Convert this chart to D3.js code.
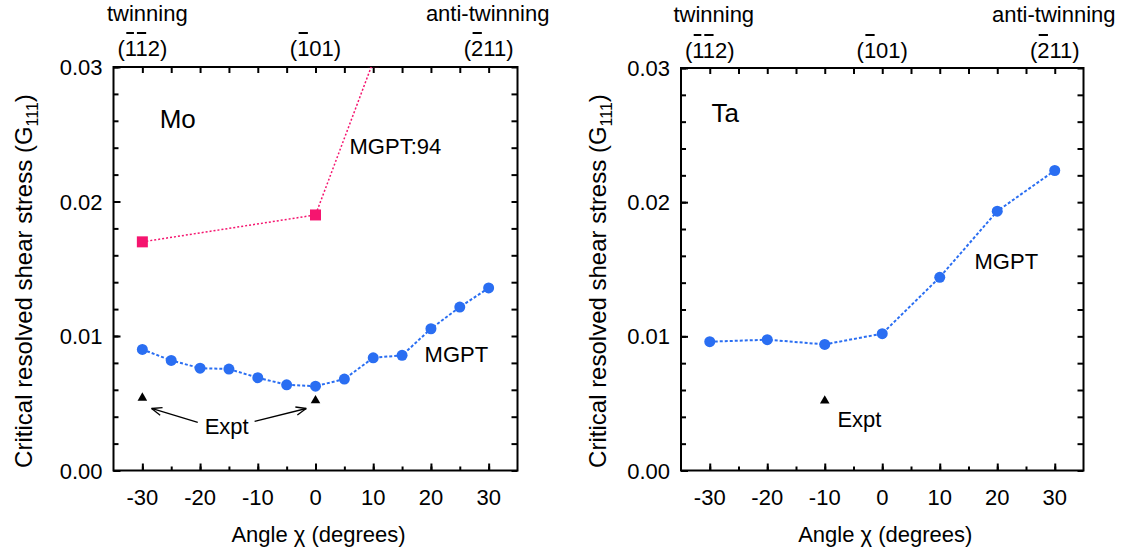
<!DOCTYPE html>
<html>
<head>
<meta charset="utf-8">
<script src="https://cdn.jsdelivr.net/npm/d3@7"></script>
<style>
  body { margin: 0; background: #fff; }
  svg { display: block; }
  text { font-family: "Liberation Sans", Arial, sans-serif; fill: #000; }
</style>
</head>
<body>
<svg id="chart" width="1124" height="548"></svg>
<script>
// ---------------- data ----------------
const xTickValues = [-30, -20, -10, 0, 10, 20, 30];
const yTickValues = [0.00, 0.01, 0.02, 0.03];
const topLabels = ["twinning", "anti-twinning"];
const millerLabels = ["(112)", "(101)", "(211)"];
const millerAngles = [-30, 0, 30];
const millerBars = [[1, 2], [1], [1]];

// Mo
const moAngles = [-30, -25, -20, -15, -10, -5, 0, 5, 10, 15, 20, 25, 30];
const moMGPT = [0.0090, 0.00818, 0.00761, 0.00754, 0.00690, 0.00637, 0.00627, 0.00680, 0.00838, 0.00856, 0.01054, 0.01215, 0.01357];
const mo94Angles = [-30, 0, 10];
const mo94 = [0.0170, 0.0190, 0.0304];
const moExptAngles = [-30, 0];
const moExpt = [0.0054, 0.0052];

// Ta
const taAngles = [-30, -20, -10, 0, 10, 20, 30];
const taMGPT = [0.0096, 0.00975, 0.0094, 0.0102, 0.0144, 0.01933, 0.02236];
const taExptAngles = [-10];
const taExpt = [0.0052];

// ---------------- drawing ----------------
const svg = d3.select("#chart");
const FS = 22;
const blue = "#2a6ef2";
const pink = "#f5156f";

function panel(cfg) {
  const x = d3.scaleLinear().domain([-35, 35]).range([cfg.left, cfg.right]);
  const y = d3.scaleLinear().domain([0, 0.03]).range([cfg.bottom, cfg.top]);
  const g = svg.append("g");
  const clipId = "clip" + cfg.id;
  svg.append("clipPath").attr("id", clipId).append("rect")
    .attr("x", cfg.left).attr("y", cfg.top)
    .attr("width", cfg.right - cfg.left).attr("height", cfg.bottom - cfg.top);

  const minorX = d3.range(-30, 31, 5);
  const minorY = d3.range(0, 0.0301, 0.002);
  const fmtX = d => String(d);
  const axB = d3.axisBottom(x).tickValues(minorX).tickSizeInner(-4).tickSizeOuter(0).tickFormat("");
  const axBm = d3.axisBottom(x).tickValues(xTickValues).tickSizeInner(-7).tickSizeOuter(0).tickFormat("");
  const axT = d3.axisTop(x).tickValues(minorX).tickSizeInner(-6).tickSizeOuter(0).tickFormat("");
  const axL = d3.axisLeft(y).tickValues(minorY).tickSizeInner(-5).tickSizeOuter(0).tickFormat("");
  const axLm = d3.axisLeft(y).tickValues(yTickValues).tickSizeInner(-7).tickSizeOuter(0).tickFormat("");
  const axR = d3.axisRight(y).tickValues(minorY).tickSizeInner(-6).tickSizeOuter(0).tickFormat("");

  const style = s => {
    s.select(".domain").remove();
    s.selectAll(".tick line").attr("stroke", "#000").attr("stroke-width", 2);
  };
  g.append("g").attr("transform", `translate(0,${cfg.bottom})`).call(axB).call(style);
  g.append("g").attr("transform", `translate(0,${cfg.bottom})`).call(axBm).call(style);
  g.append("g").attr("transform", `translate(0,${cfg.top})`).call(axT).call(style);
  g.append("g").attr("transform", `translate(${cfg.left},0)`).call(axL).call(style);
  g.append("g").attr("transform", `translate(${cfg.left},0)`).call(axLm).call(style);
  g.append("g").attr("transform", `translate(${cfg.right},0)`).call(axR).call(style);

  // tick labels
  g.append("g").selectAll("text").data(xTickValues).enter().append("text")
    .attr("x", d => x(d)).attr("y", cfg.bottom + 34).attr("text-anchor", "middle")
    .style("font-size", FS + "px").text(fmtX);
  g.append("g").selectAll("text").data(yTickValues).enter().append("text")
    .attr("x", cfg.left - 11).attr("y", d => y(d) + 8).attr("text-anchor", "end")
    .style("font-size", FS + "px").text(d3.format(".2f"));

  // frame
  g.append("rect").attr("x", cfg.left).attr("y", cfg.top)
    .attr("width", cfg.right - cfg.left).attr("height", cfg.bottom - cfg.top)
    .attr("fill", "none").attr("stroke", "#000").attr("stroke-width", 2);

  // axis titles
  g.append("text").attr("x", (cfg.left + cfg.right) / 2 + 3).attr("y", cfg.bottom + 71)
    .attr("text-anchor", "middle").style("font-size", FS + "px").text("Angle χ (degrees)");
  const yl = g.append("text")
    .attr("transform", `translate(${cfg.ylabX},${cfg.ylabY}) rotate(-90)`)
    .attr("text-anchor", "middle").style("font-size", "24px");
  yl.append("tspan").text("Critical resolved shear stress (G");
  yl.append("tspan").attr("dy", 6).style("font-size", "16px").text("111");
  yl.append("tspan").attr("dy", -6).text(")");

  // top labels
  g.append("text").attr("x", x(-30) + cfg.twOff).attr("y", cfg.twY).attr("text-anchor", "middle")
    .style("font-size", FS + "px").text(topLabels[0]);
  g.append("text").attr("x", x(30) - 1).attr("y", cfg.twY).attr("text-anchor", "middle")
    .style("font-size", FS + "px").text(topLabels[1]);
  millerLabels.forEach((lab, i) => {
    const t = g.append("text").attr("x", x(millerAngles[i])).attr("y", cfg.millerY)
      .attr("text-anchor", "middle").style("font-size", FS + "px").text(lab);
    const node = t.node();
    millerBars[i].forEach(ci => {
      const ext = node.getExtentOfChar(ci);
      g.append("line")
        .attr("x1", ext.x + 1.5).attr("x2", ext.x + ext.width - 1.5)
        .attr("y1", cfg.millerY - 23).attr("y2", cfg.millerY - 23)
        .attr("stroke", "#000").attr("stroke-width", 2);
    });
  });

  // data
  const dg = g.append("g").attr("clip-path", `url(#${clipId})`);
  const line = d3.line().x(d => x(d[0])).y(d => y(d[1]));
  cfg.series.forEach(s => {
    const pts = s.xs.map((v, i) => [v, s.ys[i]]);
    dg.append("path").attr("d", line(pts)).attr("fill", "none")
      .attr("stroke", s.color).attr("stroke-width", s.lw).attr("stroke-dasharray", s.dash);
    if (s.marker === "circle") {
      dg.selectAll(null).data(pts).enter().append("circle")
        .attr("cx", d => x(d[0])).attr("cy", d => y(d[1])).attr("r", 5.5).attr("fill", s.color);
    } else if (s.marker === "square") {
      dg.selectAll(null).data(pts).enter().append("rect")
        .attr("x", d => x(d[0]) - 5.5).attr("y", d => y(d[1]) - 5.5)
        .attr("width", 11).attr("height", 11).attr("fill", s.color);
    }
  });
  const tri = d3.symbol().type(d3.symbolTriangle).size(40);
  cfg.expt.xs.forEach((v, i) => {
    dg.append("path").attr("d", tri()).attr("transform", `translate(${x(v)},${y(cfg.expt.ys[i])})`).attr("fill", "#000");
  });

  // annotations
  cfg.labels.forEach(l => {
    g.append("text").attr("x", x(l.a)).attr("y", y(l.v)).style("font-size", l.fs + "px").text(l.t);
  });
  (cfg.arrows || []).forEach(a => {
    const x1 = x(a.from[0]), y1 = y(a.from[1]), x2 = x(a.to[0]), y2 = y(a.to[1]);
    g.append("line").attr("x1", x1).attr("y1", y1).attr("x2", x2).attr("y2", y2)
      .attr("stroke", "#000").attr("stroke-width", 1.3);
    const ang = Math.atan2(y2 - y1, x2 - x1);
    const L = 11, w = 0.38;
    [ang + Math.PI - w, ang + Math.PI + w].forEach(b => {
      g.append("line").attr("x1", x2).attr("y1", y2)
        .attr("x2", x2 + L * Math.cos(b)).attr("y2", y2 + L * Math.sin(b))
        .attr("stroke", "#000").attr("stroke-width", 1.3);
    });
  });
}

panel({
  id: "mo", left: 113.5, right: 517.5, top: 67, bottom: 470.5,
  ylabX: 32, ylabY: 281, twOff: 5, twY: 21, millerY: 56,
  series: [
    { xs: mo94Angles, ys: mo94, color: pink, lw: 1.5, dash: "2,2", marker: "square" },
    { xs: moAngles, ys: moMGPT, color: blue, lw: 2, dash: "3,2", marker: "circle" }
  ],
  expt: { xs: moExptAngles, ys: moExpt },
  labels: [
    { t: "Mo", a: -27.0, v: 0.02545, fs: 26 },
    { t: "MGPT:94", a: 5.9, v: 0.02351, fs: FS },
    { t: "MGPT", a: 18.9, v: 0.00804, fs: FS },
    { t: "Expt", a: -19.2, v: 0.00275, fs: FS }
  ],
  arrows: [
    { from: [-20.4, 0.00357], to: [-28.4, 0.00461] },
    { from: [-10.55, 0.00365], to: [-1.6, 0.00461] }
  ]
});

panel({
  id: "ta", left: 681, right: 1083.5, top: 68, bottom: 470.5,
  ylabX: 606, ylabY: 281, twOff: 4, twY: 22, millerY: 58,
  series: [
    { xs: taAngles, ys: taMGPT, color: blue, lw: 2, dash: "3,2", marker: "circle" }
  ],
  expt: { xs: taExptAngles, ys: taExpt },
  labels: [
    { t: "Ta", a: -29.7, v: 0.0260, fs: 26 },
    { t: "MGPT", a: 16.05, v: 0.01504, fs: FS },
    { t: "Expt", a: -7.8, v: 0.00322, fs: FS }
  ]
});
</script>
</body>
</html>
